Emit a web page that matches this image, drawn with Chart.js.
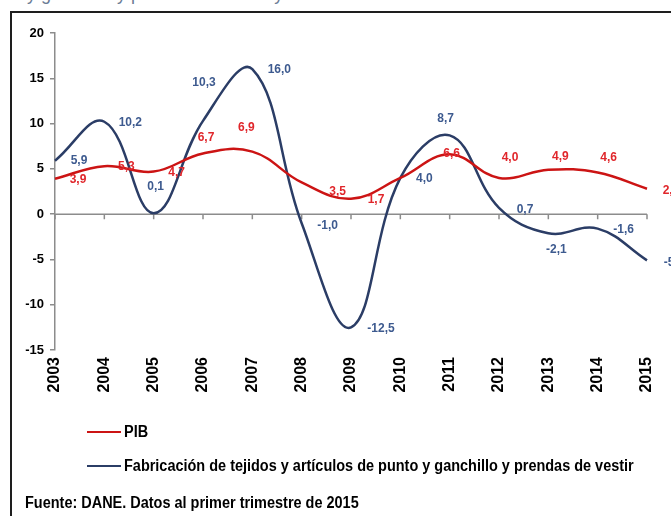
<!DOCTYPE html>
<html>
<head>
<meta charset="utf-8">
<script src="https://cdn.jsdelivr.net/npm/chart.js@4.4.0/dist/chart.umd.min.js"></script>
<style>
    html, body { margin: 0; padding: 0; background: #fff; }
    body { width: 671px; height: 516px; position: relative; overflow: hidden; font-family: 'Liberation Sans', Arial, sans-serif; }
    #title { position: absolute; left: 12px; top: -16px; font-size: 18px; color: #6b7b95; white-space: nowrap; }
    #frame { position: absolute; left: 10px; top: 11px; width: 700px; height: 600px; border-left: 2px solid #1e1e1e; border-top: 2px solid #1e1e1e; }
    #chart { position: absolute; left: 0; top: 0; }
    .legend-item { position: absolute; left: 87px; height: 20px; display: flex; align-items: center; white-space: nowrap; }
    .legend-item .swatch { width: 34px; height: 2px; margin-right: 3px; }
    .narrow { display: inline-block; transform-origin: 0 50%; font-weight: bold; font-size: 16px; color: #000; white-space: nowrap; }
    #source { position: absolute; left: 25px; top: 494px; }
</style>
</head>
<body>
<div id="title">o y ganchillo y prendas de vestir y el PIB total</div>
<div id="frame"></div>
<canvas id="chart" width="671" height="516"></canvas>
<div class="legend-item" style="top:422px"><span class="swatch" style="background:#cc1414"></span><span class="narrow">PIB</span></div>
<div class="legend-item" style="top:456px"><span class="swatch" style="background:#2b3d66"></span><span class="narrow" id="long-legend">Fabricación de tejidos y artículos de punto y ganchillo y prendas de vestir</span></div>
<div id="source"><span class="narrow">Fuente: DANE. Datos al primer trimestre de 2015</span></div>
<script>
// Data
const years = ['2003', '2004', '2005', '2006', '2007', '2008', '2009', '2010', '2011', '2012', '2013', '2014', '2015'];
const pib = [3.9, 5.3, 4.7, 6.7, 6.9, 3.5, 1.7, 4.0, 6.6, 4.0, 4.9, 4.6, 2.8];
const textiles = [5.9, 10.2, 0.1, 10.3, 16.0, -1.0, -12.5, 4.0, 8.7, 0.7, -2.1, -1.6, -5.1];
const yTicks = [-15, -10, -5, 0, 5, 10, 15, 20];

// Where each value label sits relative to its point (px), null = not shown
const pibLabelOffsets = [[23, 1], [22, 1], [23, 1], [3, -16], [-6, -24], [36, 9], [25, 1], null, [2, -1], [11, -20], [12, -13], [11, -15], [24, 2]];
const textilesLabelOffsets = [[24, 0], [26, 1], [2, -27], [1, -38], [27, 0], [26, 2], [30, 1], [24, 1], [-4, -17], [26, 2], [8, 17], [26, 1], [27, 2]];

const AXIS_GRAY = '#8c8c8c';

// The legend and source use a condensed bold face; squeeze the installed one to match
const longLegend = document.getElementById('long-legend');
const squeeze = 510 / longLegend.offsetWidth;
document.querySelectorAll('.narrow').forEach(el => {
    el.style.transform = `scaleX(${squeeze})`;
});

function formatValue(v) {
    return v.toFixed(1).replace('.', ',');
}

// Horizontal line at zero with small tick marks under each year
const zeroAxisPlugin = {
    id: 'zeroAxis',
    beforeDatasetsDraw(chart) {
        const { ctx, chartArea, scales } = chart;
        const y0 = scales.y.getPixelForValue(0);
        ctx.save();
        ctx.strokeStyle = AXIS_GRAY;
        ctx.lineWidth = 1.5;
        ctx.beginPath();
        ctx.moveTo(chartArea.left, y0);
        ctx.lineTo(chartArea.right, y0);
        years.forEach((yr, i) => {
            const x = scales.x.getPixelForValue(i);
            ctx.moveTo(x, y0);
            ctx.lineTo(x, y0 + 5);
        });
        ctx.stroke();
        ctx.restore();
    }
};

// Value labels next to the points
const valueLabelPlugin = {
    id: 'valueLabels',
    afterDatasetsDraw(chart) {
        const { ctx } = chart;
        ctx.save();
        ctx.font = 'bold 12px "Liberation Sans", Arial, sans-serif';
        ctx.textAlign = 'center';
        ctx.textBaseline = 'middle';
        chart.data.datasets.forEach((ds, di) => {
            const meta = chart.getDatasetMeta(di);
            ctx.fillStyle = ds.labelColor;
            meta.data.forEach((pt, i) => {
                const off = ds.labelOffsets[i];
                if (!off) return;
                ctx.fillText(formatValue(ds.data[i]), pt.x + off[0], pt.y + off[1]);
            });
        });
        ctx.restore();
    }
};

new Chart(document.getElementById('chart').getContext('2d'), {
    type: 'line',
    data: {
        labels: years,
        datasets: [
            {
                label: 'PIB',
                data: pib,
                borderColor: '#cc1414',
                borderWidth: 2.5,
                tension: 0.4,
                pointRadius: 0,
                fill: false,
                labelColor: '#e0262b',
                labelOffsets: pibLabelOffsets
            },
            {
                label: 'Fabricación de tejidos y artículos de punto y ganchillo y prendas de vestir',
                data: textiles,
                borderColor: '#2b3d66',
                borderWidth: 2.5,
                tension: 0.4,
                pointRadius: 0,
                fill: false,
                labelColor: '#3d5a8f',
                labelOffsets: textilesLabelOffsets
            }
        ]
    },
    options: {
        responsive: false,
        animation: false,
        layout: { padding: { left: 0, top: 33, right: 24, bottom: 116 } },
        plugins: {
            legend: { display: false },
            tooltip: { enabled: false }
        },
        scales: {
            x: {
                type: 'category',
                offset: false,
                grid: { display: false, drawTicks: false },
                border: { display: false },
                ticks: {
                    autoSkip: false,
                    minRotation: 90,
                    maxRotation: 90,
                    padding: 7,
                    color: '#000',
                    font: { family: '"Liberation Sans", Arial, sans-serif', weight: 'bold', size: 16 }
                },
                afterFit(scale) {
                    scale.height = 50;
                    scale.paddingLeft = 0;
                    scale.paddingRight = 0;
                }
            },
            y: {
                min: -15,
                max: 20,
                afterBuildTicks(scale) { scale.ticks = yTicks.map(v => ({ value: v })); },
                grid: { drawOnChartArea: false, drawTicks: true, tickLength: 5, color: AXIS_GRAY, lineWidth: 1.5 },
                border: { display: true, color: AXIS_GRAY, width: 1.5 },
                ticks: {
                    padding: 6,
                    color: '#000',
                    font: { family: '"Liberation Sans", Arial, sans-serif', weight: 'bold', size: 13 }
                },
                afterFit(scale) {
                    scale.width = 55;
                    scale.paddingTop = 0;
                    scale.paddingBottom = 0;
                }
            }
        }
    },
    plugins: [zeroAxisPlugin, valueLabelPlugin]
});
</script>
</body>
</html>
